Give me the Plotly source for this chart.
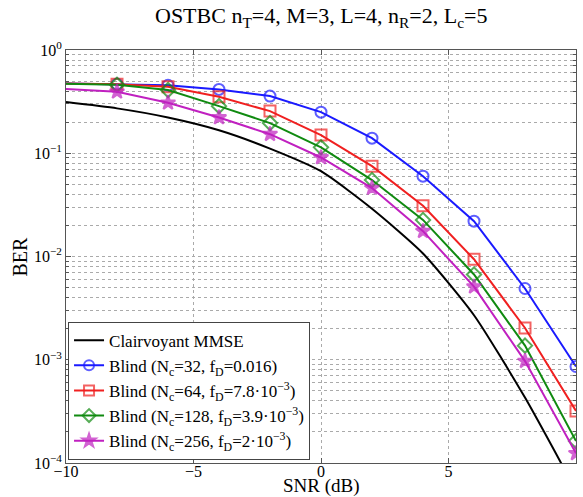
import plotly.graph_objects as go

snr = [-10, -8, -6, -4, -2, 0, 2, 4, 6, 8, 10]

ber_mmse = [0.313, 0.272, 0.222, 0.167, 0.111, 0.067, 0.029, 0.0107, 0.0027, 0.00043, 0.000054]
ber_n32 = [0.475, 0.468, 0.455, 0.415, 0.358, 0.25, 0.14, 0.06, 0.022, 0.0049, 0.00086]
ber_n64 = [0.475, 0.466, 0.44, 0.352, 0.256, 0.15, 0.075, 0.031, 0.0094, 0.00203, 0.000319]
ber_n128 = [0.47, 0.46, 0.409, 0.286, 0.196, 0.114, 0.055, 0.0226, 0.0067, 0.00137, 0.000163]
ber_n256 = [0.418, 0.394, 0.308, 0.222, 0.153, 0.091, 0.046, 0.0176, 0.0051, 0.00097, 0.000124]

names = [
    "Clairvoyant MMSE",
    "Blind (N<sub>c</sub>=32, f<sub>D</sub>=0.016)",
    "Blind (N<sub>c</sub>=64, f<sub>D</sub>=7.8·10<sup>−3</sup>)",
    "Blind (N<sub>c</sub>=128, f<sub>D</sub>=3.9·10<sup>−3</sup>)",
    "Blind (N<sub>c</sub>=256, f<sub>D</sub>=2·10<sup>−3</sup>)",
]
series = [ber_mmse, ber_n32, ber_n64, ber_n128, ber_n256]
colors = ["#000000", "#1a1aff", "#f02020", "#108a10", "#c020c0"]
symbols = [None, "circle-open", "square-open", "diamond-open", "star"]

xtick_vals = [-10, -5, 0, 5, 10]
xtick_text = ["−10", "−5", "0", "5", "10"]
decades = [-4, -3, -2, -1, 0]

font = "Liberation Serif, Times New Roman, serif"

fig = go.Figure()
for ys, nm, c, sym in zip(series, names, colors, symbols):
    if sym is None:
        fig.add_trace(go.Scatter(x=snr, y=ys, mode="lines", name=nm,
                                 line=dict(color=c, width=2, shape="spline", smoothing=0.6)))
    else:
        sizes = [0] + [11] * (len(snr) - 1)
        fig.add_trace(go.Scatter(x=snr, y=ys, mode="lines+markers", name=nm,
                                 line=dict(color=c, width=2),
                                 marker=dict(symbol=sym, size=sizes, color=c,
                                             line=dict(color=c, width=2))))

ymaj = [10 ** e for e in decades]
ymaj_text = [f"10<sup>{str(e).replace('-', '−')}</sup>" for e in decades]
ymin = [m * 10 ** e for e in decades[:-1] for m in range(2, 10)]

fig.update_layout(
    width=583, height=497,
    margin=dict(l=66, r=7, t=50, b=34),
    paper_bgcolor="white", plot_bgcolor="white",
    font=dict(family=font, size=16, color="black"),
    title=dict(text="OSTBC n<sub>T</sub>=4, M=3, L=4, n<sub>R</sub>=2, L<sub>c</sub>=5",
               x=0.551, xanchor="center", y=0.984, yanchor="top",
               font=dict(family=font, size=22)),
    showlegend=True,
    legend=dict(x=0.004, y=0.008, xanchor="left", yanchor="bottom",
                bgcolor="white", bordercolor="#444", borderwidth=1,
                font=dict(family=font, size=17), itemwidth=30,
                tracegroupgap=0),
    annotations=[
        dict(text="SNR (dB)", x=0.5, y=-0.0823, xref="paper", yref="paper",
             xanchor="center", yanchor="bottom", yshift=-2, showarrow=False,
             font=dict(family=font, size=19)),
        dict(text="BER", x=0, y=0.5, xref="paper", yref="paper",
             xanchor="center", yanchor="middle", xshift=-47, textangle=-90,
             showarrow=False, font=dict(family=font, size=20)),
    ],
)
fig.update_xaxes(
    range=[-10, 10], tickvals=xtick_vals, ticktext=xtick_text,
    showgrid=True, gridcolor="#aaaaaa", griddash="dot", gridwidth=1,
    showline=True, linecolor="#555", linewidth=1, mirror="ticks",
    ticks="inside", ticklen=5, tickcolor="#555", zeroline=False,
    tickfont=dict(size=16), ticklabelstandoff=-6,
)
fig.update_yaxes(
    type="log", range=[-4, 0], tickvals=ymaj, ticktext=ymaj_text,
    showgrid=True, gridcolor="#aaaaaa", griddash="dot", gridwidth=1,
    showline=True, linecolor="#555", linewidth=1, mirror="ticks",
    ticks="inside", ticklen=5, tickcolor="#555", zeroline=False,
    tickfont=dict(size=16),
    minor=dict(tickvals=ymin, showgrid=True, gridcolor="#aaaaaa", griddash="dot",
               gridwidth=1, ticks="inside", ticklen=3, tickcolor="#555"),
)

fig.write_html("out.html")
